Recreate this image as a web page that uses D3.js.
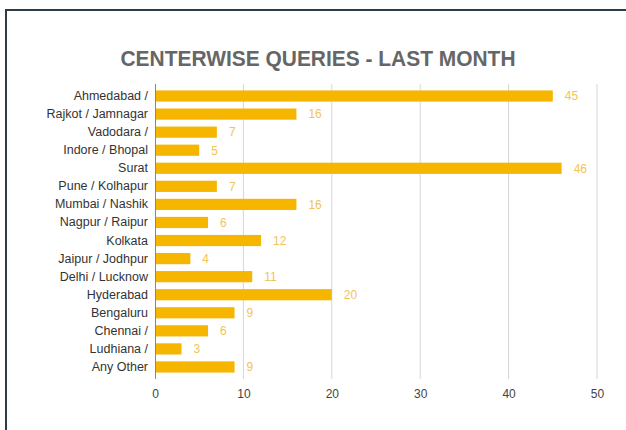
<!DOCTYPE html>
<html>
<head>
<meta charset="utf-8">
<script src="https://cdn.jsdelivr.net/npm/d3@7"></script>
<style>
  body { margin: 0; background: #fff; }
  svg { display: block; font-family: "Liberation Sans", Arial, sans-serif; }
</style>
</head>
<body>
<div id="chart"></div>
<script>
// data
var centers = ["Ahmedabad /", "Rajkot / Jamnagar", "Vadodara /", "Indore / Bhopal", "Surat",
  "Pune / Kolhapur", "Mumbai / Nashik", "Nagpur / Raipur", "Kolkata", "Jaipur / Jodhpur",
  "Delhi / Lucknow", "Hyderabad", "Bengaluru", "Chennai /", "Ludhiana /", "Any Other"];
var queries = [45, 16, 7, 5, 46, 7, 16, 6, 12, 4, 11, 20, 9, 6, 3, 9];
var xTicks = [0, 10, 20, 30, 40, 50];

var svgWidth = 626, svgHeight = 430;

var svg = d3.select("#chart").append("svg")
  .attr("width", svgWidth)
  .attr("height", svgHeight);

// frame (dark lines on top and left)
svg.append("line").attr("x1", 5).attr("x2", svgWidth).attr("y1", 10).attr("y2", 10)
  .attr("stroke", "#2c3c48").attr("stroke-width", 2);
svg.append("line").attr("x1", 6).attr("x2", 6).attr("y1", 9).attr("y2", svgHeight)
  .attr("stroke", "#2c3c48").attr("stroke-width", 2);

// title
svg.append("text")
  .attr("x", 318).attr("y", 66)
  .attr("text-anchor", "middle")
  .attr("font-size", "22px")
  .attr("font-weight", "bold")
  .attr("fill", "#666")
  .attr("textLength", 395)
  .attr("lengthAdjust", "spacingAndGlyphs")
  .text("CENTERWISE QUERIES - LAST MONTH");

var x = d3.scaleLinear().domain([0, 50]).range([155, 597]);
var y = d3.scaleBand().domain(centers).range([87, 376]).paddingInner(0.38).paddingOuter(0.19);

// gridlines
svg.append("g").selectAll("line")
  .data(xTicks.slice(1))
  .enter().append("line")
  .attr("x1", d => x(d)).attr("x2", d => x(d))
  .attr("y1", 84).attr("y2", 379)
  .attr("stroke", "#d6d6d6").attr("stroke-width", 1);

// bars
svg.append("g").selectAll("rect")
  .data(queries)
  .enter().append("rect")
  .attr("x", x(0))
  .attr("y", (d, i) => y(centers[i]))
  .attr("width", d => x(d) - x(0))
  .attr("height", y.bandwidth())
  .attr("fill", "#f6b600");

// value labels
svg.append("g").selectAll("text")
  .data(queries)
  .enter().append("text")
  .attr("x", d => x(d) + 12)
  .attr("y", (d, i) => y(centers[i]) + y.bandwidth() / 2)
  .attr("dy", "0.36em")
  .attr("font-size", "12px")
  .attr("fill", "#f1c455")
  .text(d => d);

// left axis line
svg.append("line")
  .attr("x1", x(0) + 0.5).attr("x2", x(0) + 0.5)
  .attr("y1", 84).attr("y2", 379)
  .attr("stroke", "#888").attr("stroke-width", 1);

// category labels
var yAxis = d3.axisLeft(y).tickSize(0).tickPadding(7);
var gy = svg.append("g").attr("transform", `translate(${x(0)},0)`).call(yAxis);
gy.select(".domain").remove();
gy.selectAll("text").attr("font-size", "12.5px").attr("fill", "#333")
  .attr("font-family", "Liberation Sans, Arial, sans-serif");

// x axis labels
var xAxis = d3.axisBottom(x).tickValues(xTicks).tickSize(0).tickPadding(10);
var gx = svg.append("g").attr("transform", "translate(0,379)").call(xAxis);
gx.select(".domain").remove();
gx.selectAll("text").attr("font-size", "12px").attr("fill", "#444")
  .attr("font-family", "Liberation Sans, Arial, sans-serif");
</script>
</body>
</html>
